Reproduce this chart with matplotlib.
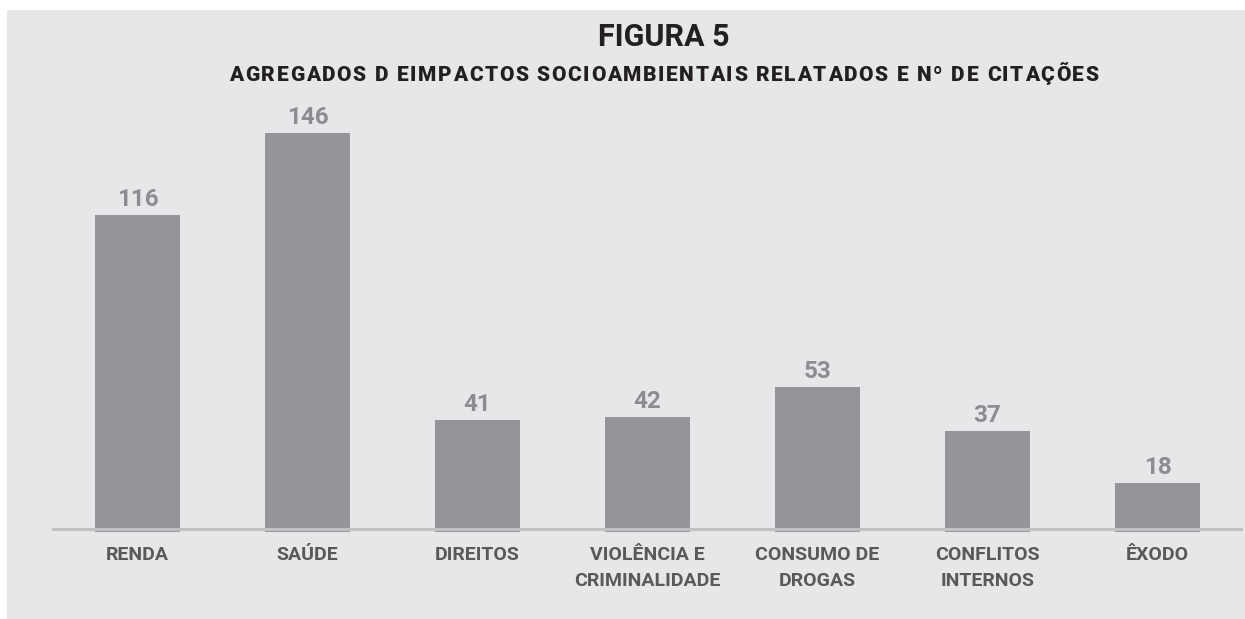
import matplotlib
matplotlib.use("Agg")
import matplotlib.pyplot as plt
from matplotlib.patches import Rectangle

categorias = ["RENDA", "SAÚDE", "DIREITOS", "VIOLÊNCIA E\nCRIMINALIDADE",
              "CONSUMO DE\nDROGAS", "CONFLITOS\nINTERNOS", "ÊXODO"]
citacoes = [116, 146, 41, 42, 53, 37, 18]

titulo = "FIGURA 5"
subtitulo = "AGREGADOS D EIMPACTOS SOCIOAMBIENTAIS RELATADOS E Nº DE CITAÇÕES"

W, H = 1245, 619
fig = plt.figure(figsize=(W / 100, H / 100), dpi=100, facecolor="white")
plt.rcParams["font.family"] = ["Roboto", "DejaVu Sans"]

# painel cinza de fundo
fig.patches.append(Rectangle((7 / W, 0), 1 - 7 / W, 1 - 10 / H,
                             transform=fig.transFigure, facecolor="#e6e7e8",
                             edgecolor="none", zorder=-5))

ax = fig.add_axes([52.5 / W, 87 / H, 1190 / W, 437.4 / H], zorder=1)
ax.set_facecolor("none")
x = list(range(len(categorias)))
ax.bar(x, citacoes, width=0.5, color="#939598", zorder=2)
ax.axhline(1.1, color="#c0c1c3", lw=2.2, zorder=3)
ax.set_xlim(-0.5, len(categorias) - 0.5)
ax.set_ylim(0, 160)
ax.axis("off")

for xi, v in zip(x, citacoes):
    ax.annotate(str(v), (xi, v), xytext=(0, 3), textcoords="offset points",
                ha="center", va="bottom", fontsize=17.5, fontweight="bold",
                color="#8c8d90")

for xi, lab in zip(x, categorias):
    ax.annotate(lab, (xi, 1.1), xytext=(0, -12), textcoords="offset points",
                ha="center", va="top", fontsize=14, fontweight="bold",
                color="#58595b", linespacing=1.6)

fig.text(664 / W, 1 - 37 / H, titulo, ha="center", va="center",
         fontsize=22, fontweight="bold", color="#231f20")

# subtitulo com espaçamento entre letras (tracking)
renderer = fig.canvas.get_renderer()
track = 1.6  # px extra por letra
chars = []
total = 0
for c in subtitulo:
    t = fig.text(0, 1 - 81 / H, c, ha="left", va="baseline", fontsize=15,
                 fontweight="heavy", color="#231f20")
    wpx = t.get_window_extent(renderer).width
    if c == " ":
        wpx = 5.5
    chars.append((t, wpx))
    total += wpx + track
total -= track
xpos = 664 - total / 2
for t, wpx in chars:
    t.set_x(xpos / W)
    xpos += wpx + track

fig.savefig("out.png", dpi=100, facecolor="white")
